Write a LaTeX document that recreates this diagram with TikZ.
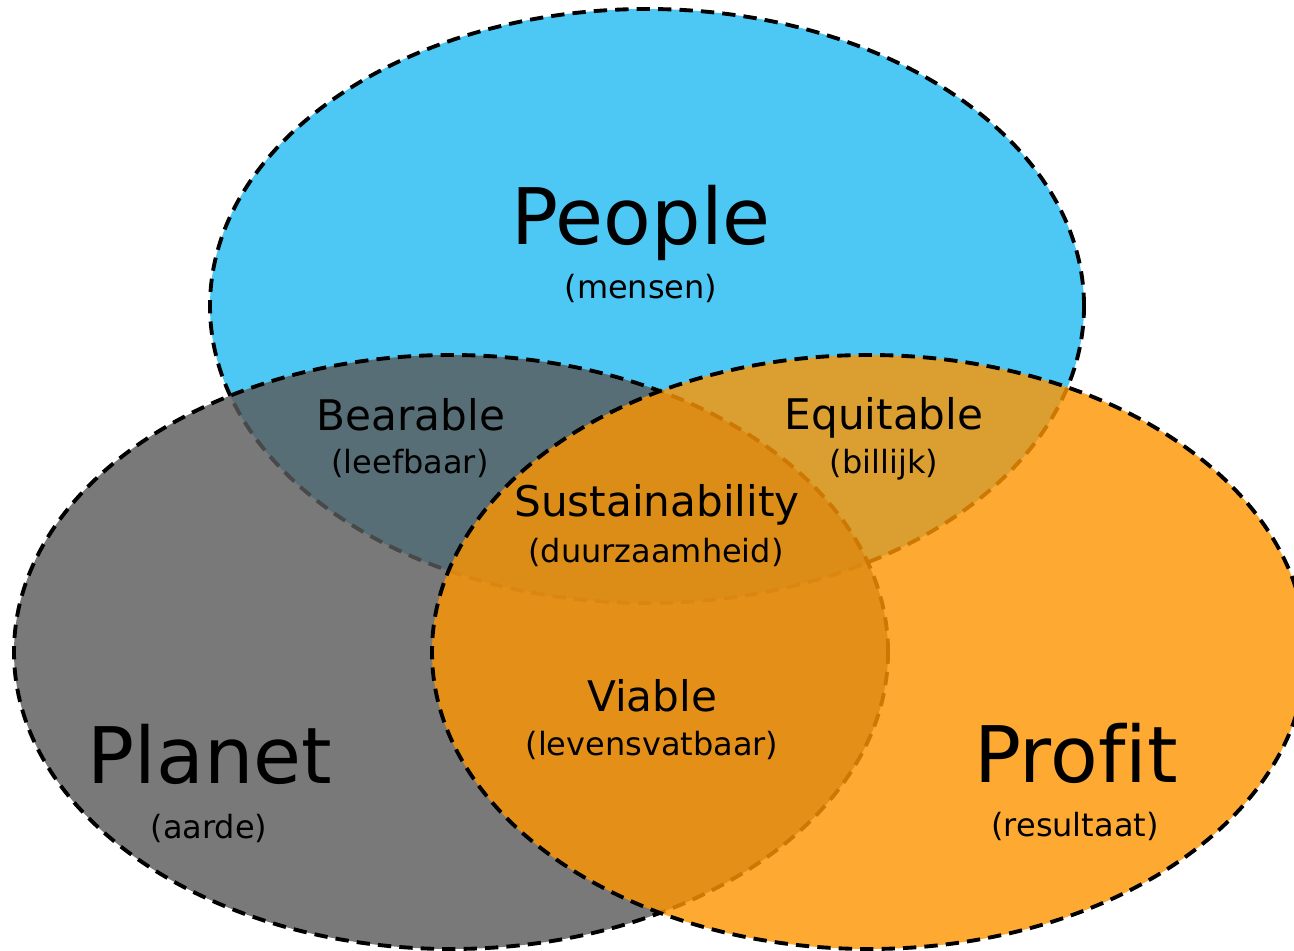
\documentclass[tikz,border=0pt]{standalone}
\usepackage{fontspec}
\setmainfont[Ligatures=NoCommon]{DejaVu Sans}
\usepackage{tikz}
\definecolor{peopleblue}{RGB}{77,200,244}
\definecolor{planetgray}{RGB}{90,90,90}
\definecolor{profitorange}{RGB}{252,149,3}
\tikzset{
	ringline/.style={line width=1.1pt, dash pattern=on 3.8pt off 2.3pt},
	bigname/.style={anchor=base, inner sep=0pt, font=\fontsize{22.2}{26}\selectfont},
	midname/.style={anchor=base, inner sep=0pt, font=\fontsize{12}{14}\selectfont},
	subname/.style={anchor=base, inner sep=0pt, font=\fontsize{9.1}{11}\selectfont}
}
\begin{document}
\begin{tikzpicture}
			%%%%% START %%%%%
			\useasboundingbox (0, 0) rectangle (12.94, 9.5);
			
			\draw[ringline, fill=peopleblue] (6.47, 6.44) ellipse [x radius=4.37, y radius=2.97];
			\draw[ringline, fill=planetgray, fill opacity=0.81] (4.51, 2.98) ellipse [x radius=4.37, y radius=2.97];
			\draw[ringline, fill=profitorange, fill opacity=0.81] (8.69, 2.98) ellipse [x radius=4.37, y radius=2.97];
			
			\node[bigname] (people) at (6.41, 7.05) {People};
			\node[subname] (mensen) at (6.41, 6.51) {(mensen)};
			
			\node[midname] (bearable) at (4.11, 5.19) {Bearable};
			\node[subname] (leefbaar) at (4.10, 4.76) {(leefbaar)};
			
			\node[midname] (equitable) at (8.84, 5.20) {Equitable};
			\node[subname] (billijk) at (8.84, 4.76) {(billijk)};
			
			\node[midname] (sustain) at (6.57, 4.33) {Sustainability};
			\node[subname] (duurzaam) at (6.56, 3.87) {(duurzaamheid)};
			
			\node[midname] (viable) at (6.52, 2.38) {Viable};
			\node[subname] (levensvat) at (6.52, 1.94) {(levensvatbaar)};
			
			\node[bigname] (planet) at (2.10, 1.67) {Planet};
			\node[subname] (aarde) at (2.09, 1.12) {(aarde)};
			
			\node[bigname] (profit) at (10.76, 1.68) {Profit};
			\node[subname] (resultaat) at (10.75, 1.14) {(resultaat)};
			
			%%%%% END %%%%%
\end{tikzpicture}
\end{document}
